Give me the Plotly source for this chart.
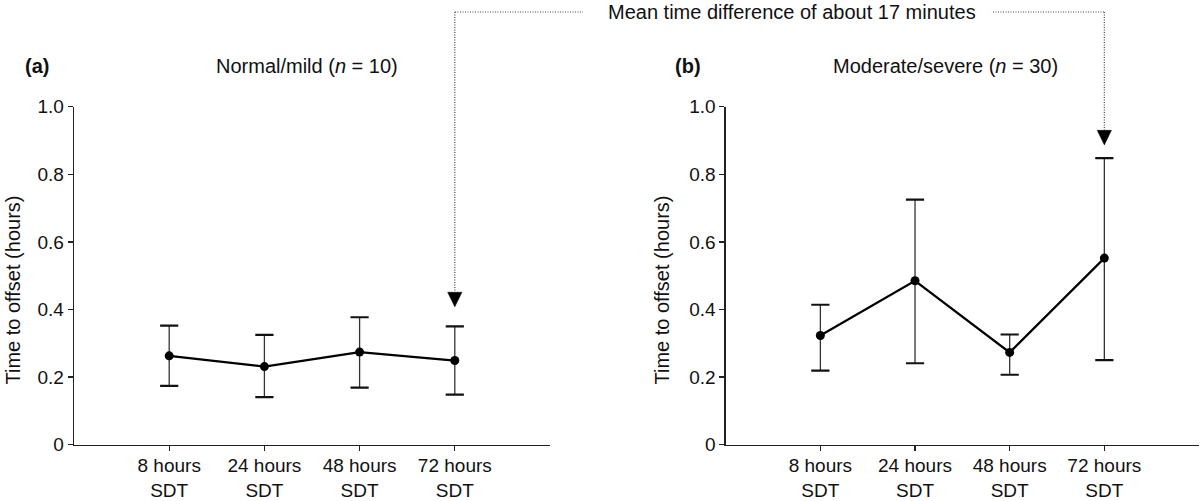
import plotly.graph_objects as go

# ---------------- data ----------------
categories = ["8 hours<br>SDT", "24 hours<br>SDT", "48 hours<br>SDT", "72 hours<br>SDT"]
cat_pos = [1, 2, 3, 4]

mild_mean = [0.263, 0.231, 0.274, 0.249]
mild_upper = [0.352, 0.325, 0.377, 0.350]
mild_lower = [0.174, 0.141, 0.169, 0.148]

severe_mean = [0.323, 0.485, 0.273, 0.552]
severe_upper = [0.414, 0.725, 0.326, 0.848]
severe_lower = [0.219, 0.241, 0.207, 0.250]

ytick_vals = [0, 0.2, 0.4, 0.6, 0.8, 1.0]
ytick_text = ["0", "0.2", "0.4", "0.6", "0.8", "1.0"]

panel_titles = ["Normal/mild (<i>n</i> = 10)", "Moderate/severe (<i>n</i> = 30)"]
panel_letters = ["<b>(a)</b>", "<b>(b)</b>"]
y_title = "Time to offset (hours)"
note_text = "Mean time difference of about 17 minutes"
arrow_tip = [0.408, 0.887]   # value where each arrowhead points
arrow_len = 0.043             # arrowhead height in data units

# ---------------- layout helpers ----------------
W, H = 1200, 501
FONT = "Liberation Sans, Arial, Helvetica, sans-serif"


def px(x):
    return x / W


def py(y):
    return 1 - y / H


y_dom = [py(444.7), py(106.7)]
x_doms = [[px(74), px(550)], [px(725.7), px(1199)]]

fig = go.Figure()

for i, (m, up, lo) in enumerate([(mild_mean, mild_upper, mild_lower),
                                 (severe_mean, severe_upper, severe_lower)]):
    xa = "x" if i == 0 else "x2"
    ya = "y" if i == 0 else "y2"
    # error bar stems
    fig.add_trace(go.Scatter(
        x=cat_pos, y=m, xaxis=xa, yaxis=ya, mode="none",
        error_y=dict(type="data", symmetric=False,
                     array=[u - v for u, v in zip(up, m)],
                     arrayminus=[v - l for v, l in zip(m, lo)],
                     color="#333", thickness=1.3, width=0),
        showlegend=False, hoverinfo="skip"))
    # error bar caps
    fig.add_trace(go.Scatter(
        x=cat_pos + cat_pos, y=up + lo, xaxis=xa, yaxis=ya, mode="markers",
        marker=dict(symbol="line-ew-open", size=13, color="#111",
                    line=dict(color="#111", width=2.2)),
        showlegend=False, hoverinfo="skip"))
    # mean line
    fig.add_trace(go.Scatter(
        x=cat_pos, y=m, xaxis=xa, yaxis=ya, mode="lines+markers",
        line=dict(color="black", width=2.2),
        marker=dict(color="black", size=9),
        showlegend=False, hoverinfo="skip"))

axis_common = dict(showline=True, linecolor="#222", linewidth=1.3,
                   ticks="outside", ticklen=5, tickwidth=1.3, tickcolor="#222",
                   showgrid=False, zeroline=False, automargin=False)

for i in range(2):
    sfx = "" if i == 0 else "2"
    fig.update_layout(**{
        "xaxis" + sfx: dict(domain=x_doms[i], range=[0, 5], tickvals=cat_pos,
                            ticktext=categories, anchor="y" + sfx,
                            ticklabelstandoff=-2,
                            tickfont=dict(size=19, family=FONT, color="#111"),
                            **axis_common),
        "yaxis" + sfx: dict(domain=y_dom, range=[0, 1], tickvals=ytick_vals,
                            ticktext=ytick_text, anchor="x" + sfx,
                            tickfont=dict(size=19, family=FONT, color="#111"),
                            **axis_common),
    })

annotations = []
title_x = [307, 945.5]
letter_x = [37, 688]
ytitle_x = [12.5, 661.5]
for i in range(2):
    annotations.append(dict(text=panel_titles[i], x=px(title_x[i]), y=py(66),
                            xref="paper", yref="paper", showarrow=False,
                            xanchor="center", yanchor="middle",
                            font=dict(size=20, family=FONT, color="#111")))
    annotations.append(dict(text=panel_letters[i], x=px(letter_x[i]), y=py(66),
                            xref="paper", yref="paper", showarrow=False,
                            xanchor="center", yanchor="middle",
                            font=dict(size=20, family=FONT, color="#111")))
    annotations.append(dict(text=y_title, x=px(ytitle_x[i]), y=py(290),
                            xref="paper", yref="paper", showarrow=False,
                            textangle=-90, xanchor="center", yanchor="middle",
                            font=dict(size=20, family=FONT, color="#111")))
annotations.append(dict(text=note_text, x=px(792), y=py(12), xref="paper",
                        yref="paper", showarrow=False, xanchor="center",
                        yanchor="middle",
                        font=dict(size=20, family=FONT, color="#111")))

shapes = []
dot = dict(color="#444", width=1.2, dash="1px,1.5px")
line_y = py(12)
# horizontal segments
shapes.append(dict(type="line", xref="paper", yref="paper", x0=px(455), x1=px(583),
                   y0=line_y, y1=line_y, line=dot))
shapes.append(dict(type="line", xref="paper", yref="paper", x0=px(993), x1=px(1104.3),
                   y0=line_y, y1=line_y, line=dot))
for i in range(2):
    xa = "x" if i == 0 else "x2"
    ya = "y" if i == 0 else "y2"
    top_val = arrow_tip[i] + arrow_len
    top_paper = y_dom[0] + top_val * (y_dom[1] - y_dom[0])
    shapes.append(dict(type="line", xref=xa, yref="paper", x0=4, x1=4,
                       y0=line_y, y1=top_paper, line=dot))
    hw = 0.075
    shapes.append(dict(type="path", xref=xa, yref=ya,
                       path=f"M {4 - hw} {top_val} L {4 + hw} {top_val} L 4 {arrow_tip[i]} Z",
                       fillcolor="black", line=dict(color="black", width=0.5)))

fig.update_layout(template="none", width=W, height=H, autosize=False,
                  margin=dict(l=0, r=0, t=0, b=0, pad=0),
                  paper_bgcolor="white", plot_bgcolor="white",
                  showlegend=False,
                  annotations=annotations, shapes=shapes,
                  font=dict(family=FONT, color="#111"))

post = ("document.body.style.margin='0';"
        "document.documentElement.style.overflow='hidden';"
        "document.body.style.overflow='hidden';")
fig.write_html("out.html", post_script=post,
               config={"displayModeBar": False, "staticPlot": True})
